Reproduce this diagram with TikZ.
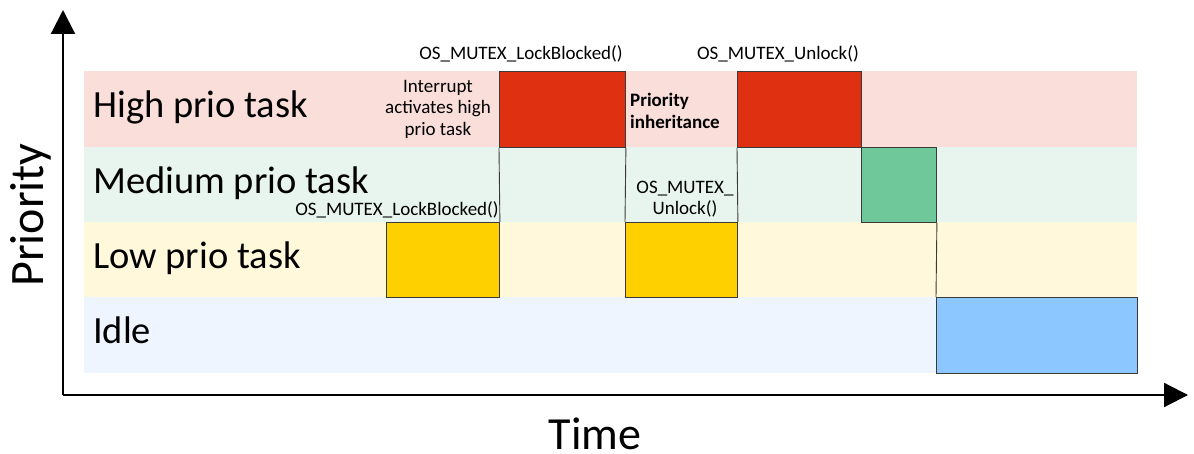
\documentclass[tikz,border=0pt]{standalone}
\usepackage{fontspec}
\setmainfont{Carlito}
\usetikzlibrary{arrows.meta}
\definecolor{bandhigh}{HTML}{FADEDA}
\definecolor{bandmed}{HTML}{E8F5EE}
\definecolor{bandlow}{HTML}{FFF8DB}
\definecolor{bandidle}{HTML}{EEF5FE}
\definecolor{redbox}{HTML}{DF3011}
\definecolor{yelbox}{HTML}{FFD000}
\definecolor{grnbox}{HTML}{6EC89A}
\definecolor{blubox}{HTML}{8CC8FF}
\definecolor{edge}{HTML}{3A3A3A}
\tikzset{
  band/.style={draw=none,minimum height=75.5pt,inner sep=0pt,anchor=north west},
  task/.style={draw=edge,line width=0.9pt,inner sep=0pt,anchor=north west},
  link/.style={draw=edge,line width=0.9pt},
  bandlabel/.style={font=\fontsize{38.5}{44}\selectfont,anchor=base west,inner sep=0pt},
  small/.style={font=\fontsize{19}{21.5}\selectfont,inner sep=0pt,align=center},
  axis/.style={line width=2.2pt,-{Triangle[length=24pt,width=24pt]}}
}
\begin{document}
\begin{tikzpicture}[x=1pt,y=-1pt]
\useasboundingbox (0,0) rectangle (1194,454);
% bands
\node[band,fill=bandhigh,minimum width=1053pt] (bh) at (84,71) {};
\node[band,fill=bandmed,minimum width=1053pt] (bm) at (84,147) {};
\node[band,fill=bandlow,minimum width=1053pt] (bl) at (84,222) {};
\node[band,fill=bandidle,minimum width=1053pt] (bi) at (84,297) {};
% band labels
\node[bandlabel] (th) at (93,118) {High prio task};
\node[bandlabel] (tm) at (93,194) {Medium prio task};
\node[bandlabel] (tl) at (93,269) {Low prio task};
\node[bandlabel] (ti) at (93,344) {Idle};
% task boxes
\node[task,fill=yelbox,minimum width=113pt,minimum height=75pt] (l1) at (386,222) {};
\node[task,fill=redbox,minimum width=126pt,minimum height=76pt] (h1) at (499,71) {};
\node[task,fill=yelbox,minimum width=112pt,minimum height=75pt] (l2) at (625,222) {};
\node[task,fill=redbox,minimum width=124pt,minimum height=76pt] (h2) at (737,71) {};
\node[task,fill=grnbox,minimum width=75pt,minimum height=75pt] (m1) at (861,147) {};
\node[task,fill=blubox,minimum width=201pt,minimum height=76pt] (i1) at (936,297) {};
% connectors
\draw[link] (h1.south west) -- (l1.north east);
\draw[link] (h1.south east) -- (l2.north west);
\draw[link] (l2.north east) -- (h2.south west);
\draw[link] (m1.south east) -- (i1.north west);
% texts
\node[small,anchor=base] (c1) at (521,60) {OS\_MUTEX\_LockBlocked()};
\node[small,anchor=base] (c2) at (778,60) {OS\_MUTEX\_Unlock()};
\node[small] (c3) at (438,109) {Interrupt\\activates high\\prio task};
\node[small,font=\bfseries\fontsize{19}{21.5}\selectfont,align=left,anchor=west] (c4) at (630,111) {Priority\\inheritance};
\node[small,anchor=base] (c5) at (397,216) {OS\_MUTEX\_LockBlocked()};
\node[small,font=\fontsize{19}{21}\selectfont] (c6) at (685,199) {OS\_MUTEX\_\\Unlock()};
% axes
\coordinate (o) at (63,395);
\coordinate (ytip) at (63,10);
\coordinate (xtip) at (1188,395);
\draw[axis] (o) -- (ytip);
\draw[axis] (o) -- (xtip);
\node[font=\fontsize{46}{50}\selectfont,inner sep=0pt,anchor=base,text depth=0pt] (xl) at (595,449) {Time};
\node[font=\fontsize{48}{52}\selectfont,inner sep=0pt,rotate=90,anchor=base] (yl) at (43,215) {Priority};
\end{tikzpicture}
\end{document}
